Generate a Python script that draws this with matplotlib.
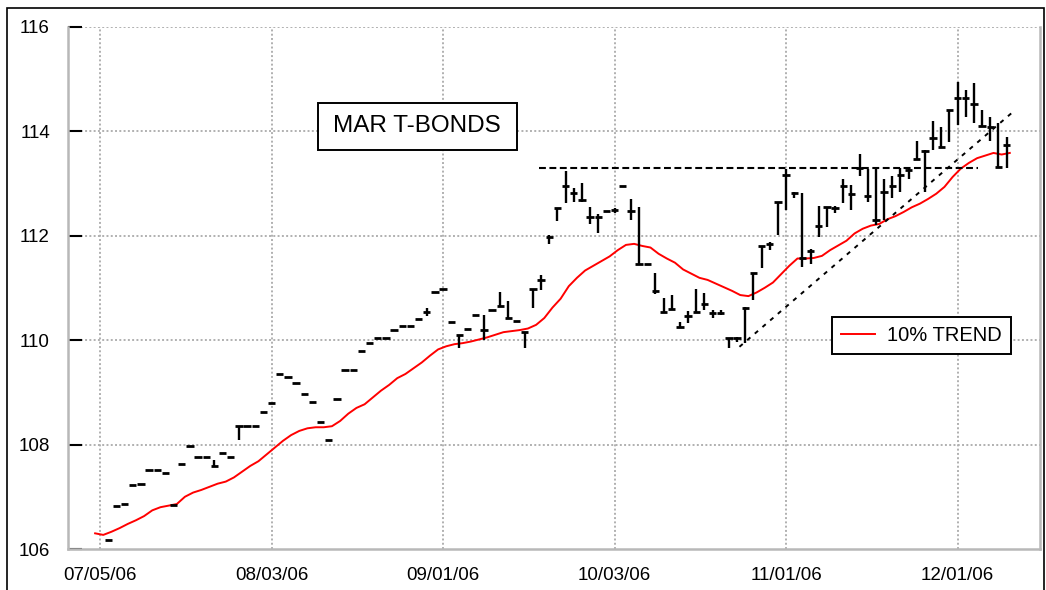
import numpy as np
import matplotlib
matplotlib.use("Agg")
import matplotlib.pyplot as plt
from matplotlib.patches import Rectangle

plt.rcParams['font.family'] = ['Liberation Sans', 'DejaVu Sans']

# bar number 0 = 07/05/06, one bar per trading day
tick_pos = [0, 21, 42, 63, 84, 105]
tick_labels = ['07/05/06', '08/03/06', '09/01/06', '10/03/06', '11/01/06', '12/01/06']

# price level of the open/close ticks, bars 1..111
ticks = [106.17, 106.82, 106.87, 107.22, 107.25, 107.52, 107.52, 107.46, 106.84, 107.63,
         107.98, 107.77, 107.77, 107.58, 107.84, 107.77, 108.36, 108.36, 108.36, 108.62,
         108.79, 109.34, 109.29, 109.17, 108.97, 108.81, 108.44, 108.09, 108.88, 109.43,
         109.43, 109.78, 109.95, 110.04, 110.04, 110.19, 110.27, 110.27, 110.40, 110.54,
         110.91, 110.97, 110.34, 110.10, 110.22, 110.47, 110.19, 110.57, 110.65, 110.42,
         110.36, 110.16, 110.98, 111.14, 111.98, 112.53, 112.95, 112.81, 112.68, 112.36,
         112.36, 112.46, 112.48, 112.95, 112.46, 111.45, 111.45, 110.94, 110.53, 110.59,
         110.24, 110.46, 110.53, 110.68, 110.52, 110.52, 110.03, 110.03, 110.61, 111.29,
         111.79, 111.83, 112.65, 113.16, 112.81, 111.56, 111.71, 112.18, 112.54, 112.52,
         112.95, 112.79, 113.30, 112.76, 112.30, 112.83, 112.95, 113.15, 113.25, 113.46,
         113.62, 113.87, 113.70, 114.40, 114.63, 114.63, 114.52, 114.10, 114.08, 113.32,
         113.73]
highs = [106.17, 106.82, 106.87, 107.22, 107.25, 107.52, 107.52, 107.46, 106.84, 107.63,
         107.98, 107.77, 107.77, 107.70, 107.84, 107.77, 108.36, 108.36, 108.36, 108.62,
         108.79, 109.34, 109.29, 109.17, 108.97, 108.81, 108.44, 108.09, 108.88, 109.43,
         109.43, 109.78, 109.95, 110.04, 110.04, 110.19, 110.27, 110.27, 110.40, 110.61,
         110.91, 110.97, 110.34, 110.10, 110.22, 110.47, 110.48, 110.57, 110.91, 110.75,
         110.36, 110.16, 110.98, 111.24, 112.01, 112.53, 113.24, 112.90, 113.01, 112.54,
         112.41, 112.46, 112.52, 112.95, 112.69, 112.54, 111.45, 111.29, 110.80, 110.86,
         110.35, 110.56, 110.97, 110.89, 110.57, 110.57, 110.03, 110.06, 110.64, 111.29,
         111.79, 111.88, 112.65, 113.27, 112.84, 112.81, 111.74, 112.56, 112.54, 112.56,
         113.09, 112.97, 113.56, 113.27, 113.29, 113.09, 113.13, 113.29, 113.32, 113.80,
         113.64, 114.20, 114.08, 114.41, 114.94, 114.78, 114.91, 114.40, 114.27, 114.15,
         113.89]
lows = [106.17, 106.82, 106.87, 107.22, 107.25, 107.52, 107.52, 107.46, 106.84, 107.63,
        107.98, 107.77, 107.77, 107.58, 107.84, 107.77, 108.09, 108.36, 108.36, 108.62,
        108.79, 109.34, 109.29, 109.17, 108.97, 108.81, 108.44, 108.09, 108.88, 109.43,
        109.43, 109.78, 109.95, 110.04, 110.04, 110.19, 110.27, 110.27, 110.40, 110.45,
        110.91, 110.97, 110.34, 109.84, 110.22, 110.47, 110.00, 110.57, 110.65, 110.42,
        110.36, 109.84, 110.62, 110.96, 111.84, 112.28, 112.62, 112.65, 112.65, 112.22,
        112.04, 112.46, 112.43, 112.95, 112.30, 111.45, 111.45, 110.88, 110.51, 110.59,
        110.24, 110.33, 110.52, 110.57, 110.43, 110.48, 109.84, 109.97, 109.95, 110.77,
        111.37, 111.72, 112.01, 112.49, 112.71, 111.40, 111.45, 111.98, 112.17, 112.43,
        112.63, 112.49, 113.14, 112.65, 112.20, 112.30, 112.71, 112.84, 113.08, 113.46,
        112.84, 113.64, 113.67, 113.78, 114.11, 114.27, 114.16, 114.07, 113.80, 113.30,
        113.29]

# 10% trend, bars -1..111
trend = [106.30, 106.27, 106.33, 106.40, 106.48, 106.55, 106.63, 106.74, 106.80, 106.83,
         106.86, 107.00, 107.08, 107.13, 107.19, 107.25, 107.29, 107.37, 107.48, 107.59,
         107.68, 107.81, 107.94, 108.07, 108.18, 108.26, 108.31, 108.33, 108.33, 108.35,
         108.45, 108.59, 108.70, 108.77, 108.90, 109.03, 109.14, 109.27, 109.35, 109.46,
         109.57, 109.70, 109.82, 109.88, 109.92, 109.94, 109.97, 110.01, 110.05, 110.10,
         110.15, 110.17, 110.19, 110.22, 110.29, 110.42, 110.62, 110.79, 111.03, 111.19,
         111.33, 111.42, 111.51, 111.60, 111.72, 111.82, 111.84, 111.80, 111.77, 111.65,
         111.56, 111.48, 111.35, 111.27, 111.19, 111.15, 111.08, 111.01, 110.94, 110.86,
         110.84, 110.91, 111.00, 111.10, 111.26, 111.42, 111.56, 111.56, 111.57, 111.61,
         111.72, 111.81, 111.90, 112.04, 112.13, 112.19, 112.22, 112.31, 112.37, 112.45,
         112.54, 112.61, 112.70, 112.80, 112.93, 113.12, 113.28, 113.39, 113.48, 113.53,
         113.58, 113.55, 113.58]

# hand drawn lines
resist_x = [53.8, 107.5]
resist_y = [113.30, 113.30]
upline_x = [78.3, 111.6]
upline_y = [109.87, 114.34]

bar_x = np.arange(1, len(ticks) + 1)
trend_x = np.arange(-1, len(trend) - 1) + 0.4

fig = plt.figure(figsize=(10.46, 5.90), dpi=100)
ax = fig.add_axes([68 / 1046, 1 - 549 / 590, (1040 - 68) / 1046, (549 - 26.5) / 590])

grid_col = '#b0b0b0'
for p in tick_pos:
    ax.axvline(p, color=grid_col, lw=1.4, ls=(0, (1, 1.2)), zorder=0)
for v in [108, 110, 112, 114, 116]:
    ax.axhline(v, color=grid_col, lw=1.4, ls=(0, (1, 1.2)), zorder=0)

ax.plot(trend_x, trend, color='red', lw=1.4, label='10% TREND', zorder=2)

ax.vlines(bar_x, lows, highs, color='black', lw=1.7, zorder=3)
ax.hlines(ticks, bar_x - 0.45, bar_x + 0.45, color='black', lw=2.0, zorder=3)

ax.plot(resist_x, resist_y, color='black', lw=1.5, ls=(0, (3.3, 1.7)), zorder=4)
ax.plot(upline_x, upline_y, color='black', lw=1.4, ls=(0, (2.2, 3)), zorder=4)

ax.set_xlim(-3.92, 115.1)
ax.set_ylim(106, 116)
ax.set_xticks(tick_pos)
ax.set_xticklabels(tick_labels)
ax.set_yticks([106, 108, 110, 112, 114, 116])
ax.tick_params(axis='y', direction='in', length=10, width=1.5, color='black', pad=13, labelsize=13.5)
ax.tick_params(axis='x', length=0, pad=13, labelsize=13.5)

for s in ['left', 'bottom', 'right']:
    ax.spines[s].set_color('#b8b8b8')
    ax.spines[s].set_linewidth(1.8)
ax.spines['top'].set_visible(False)

leg = ax.legend(loc='upper left', bbox_to_anchor=(832 / 1046, 1 - 317 / 590),
                bbox_transform=fig.transFigure, fancybox=False, edgecolor='black',
                framealpha=1, fontsize=14.5, handlelength=1.7, handletextpad=0.6,
                borderpad=0.45, borderaxespad=0)
leg.get_frame().set_linewidth(1.4)

# title box
fig.patches.append(Rectangle((318 / 1046, 1 - 150 / 590), 199 / 1046, 47 / 590,
                             transform=fig.transFigure, fc='white', ec='black', lw=1.4))
fig.text(417 / 1046, 1 - 126 / 590, 'MAR T-BONDS', ha='center', va='center', fontsize=17.5)

# outer frame
fig.patches.append(Rectangle((7 / 1046, -0.02), 1037 / 1046, (590 - 8) / 590 + 0.02,
                             transform=fig.transFigure, fill=False, ec='black', lw=1.2))

fig.savefig('out.png', dpi=100)
